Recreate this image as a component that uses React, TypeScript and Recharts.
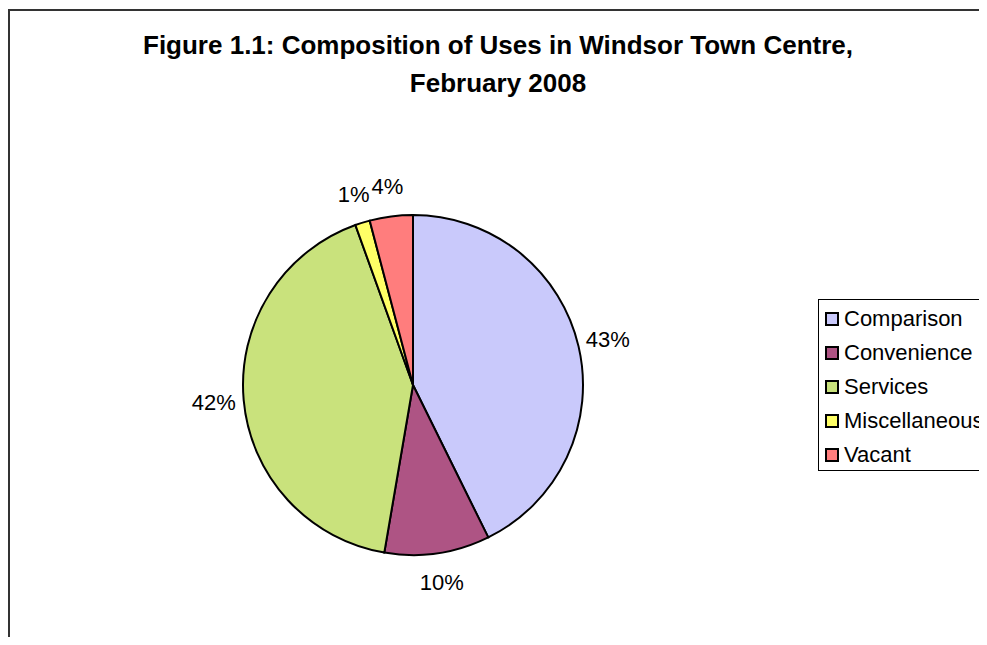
import React from 'react';
import { PieChart, Pie, Cell, Legend } from 'recharts';

// Shares of units by use class (percent)
const categories = ['Comparison', 'Convenience', 'Services', 'Miscellaneous', 'Vacant'];
const shares = [42.7, 10.0, 41.8, 1.4, 4.1];
const colors = ['#C9C9FB', '#AE5484', '#C9E27C', '#FFFF66', '#FF7D7D'];

const titleLines = ['Figure 1.1: Composition of Uses in Windsor Town Centre,', 'February 2008'];

const FONT = '"Liberation Sans", Arial, Helvetica, sans-serif';
const RAD = Math.PI / 180;

const data = categories.map((name, i) => ({ name, value: shares[i] }));

const renderLabel = ({ cx, cy, midAngle, outerRadius, percent }: any) => {
  const r = outerRadius + 30;
  const x = cx + r * Math.cos(-midAngle * RAD);
  const y = cy + r * Math.sin(-midAngle * RAD);
  return (
    <text
      x={x}
      y={y}
      textAnchor="middle"
      dominantBaseline="central"
      fontFamily={FONT}
      fontSize={22}
      fill="#000"
    >
      {`${Math.round(percent * 100)}%`}
    </text>
  );
};

const LegendBox = () => (
  <div
    style={{
      border: '1px solid #000',
      width: 168,
      height: 172,
      boxSizing: 'border-box',
      padding: '2px 0 0 6px',
      background: '#fff',
      fontFamily: FONT,
      fontSize: 22,
      color: '#000',
      whiteSpace: 'nowrap',
    }}
  >
    {categories.map((c, i) => (
      <div key={c} style={{ display: 'flex', alignItems: 'center', height: 34 }}>
        <span
          style={{
            display: 'inline-block',
            width: 10,
            height: 10,
            border: '2px solid #000',
            background: colors[i],
            marginRight: 5,
          }}
        />
        <span>{c}</span>
      </div>
    ))}
  </div>
);

export default function App() {
  return (
    <div
      style={{
        position: 'relative',
        marginTop: 1,
        width: 978,
        height: 628,
        borderTop: '2px solid #333',
        borderLeft: '2px solid #333',
        boxSizing: 'border-box',
        background: '#fff',
      }}
    >
      <div
        style={{
          position: 'absolute',
          left: 0,
          top: 15,
          width: 976,
          textAlign: 'center',
          fontFamily: FONT,
          fontWeight: 'bold',
          fontSize: 26,
          lineHeight: '38px',
          color: '#000',
        }}
      >
        {titleLines.map((t) => (
          <div key={t}>{t}</div>
        ))}
      </div>
      <PieChart width={976} height={626} style={{ position: 'absolute', left: 0, top: 0 }}>
        <Pie
          data={data}
          dataKey="value"
          nameKey="name"
          cx={398}
          cy={369}
          outerRadius={170}
          startAngle={90}
          endAngle={-270}
          stroke="#000"
          strokeWidth={2}
          label={renderLabel}
          labelLine={false}
          isAnimationActive={false}
        >
          {data.map((d, i) => (
            <Cell key={d.name} fill={colors[i]} />
          ))}
        </Pie>
        <Legend
          content={<LegendBox />}
          wrapperStyle={{ left: 808, top: 288, width: 168, height: 172, bottom: 'auto', right: 'auto' }}
        />
      </PieChart>
    </div>
  );
}
